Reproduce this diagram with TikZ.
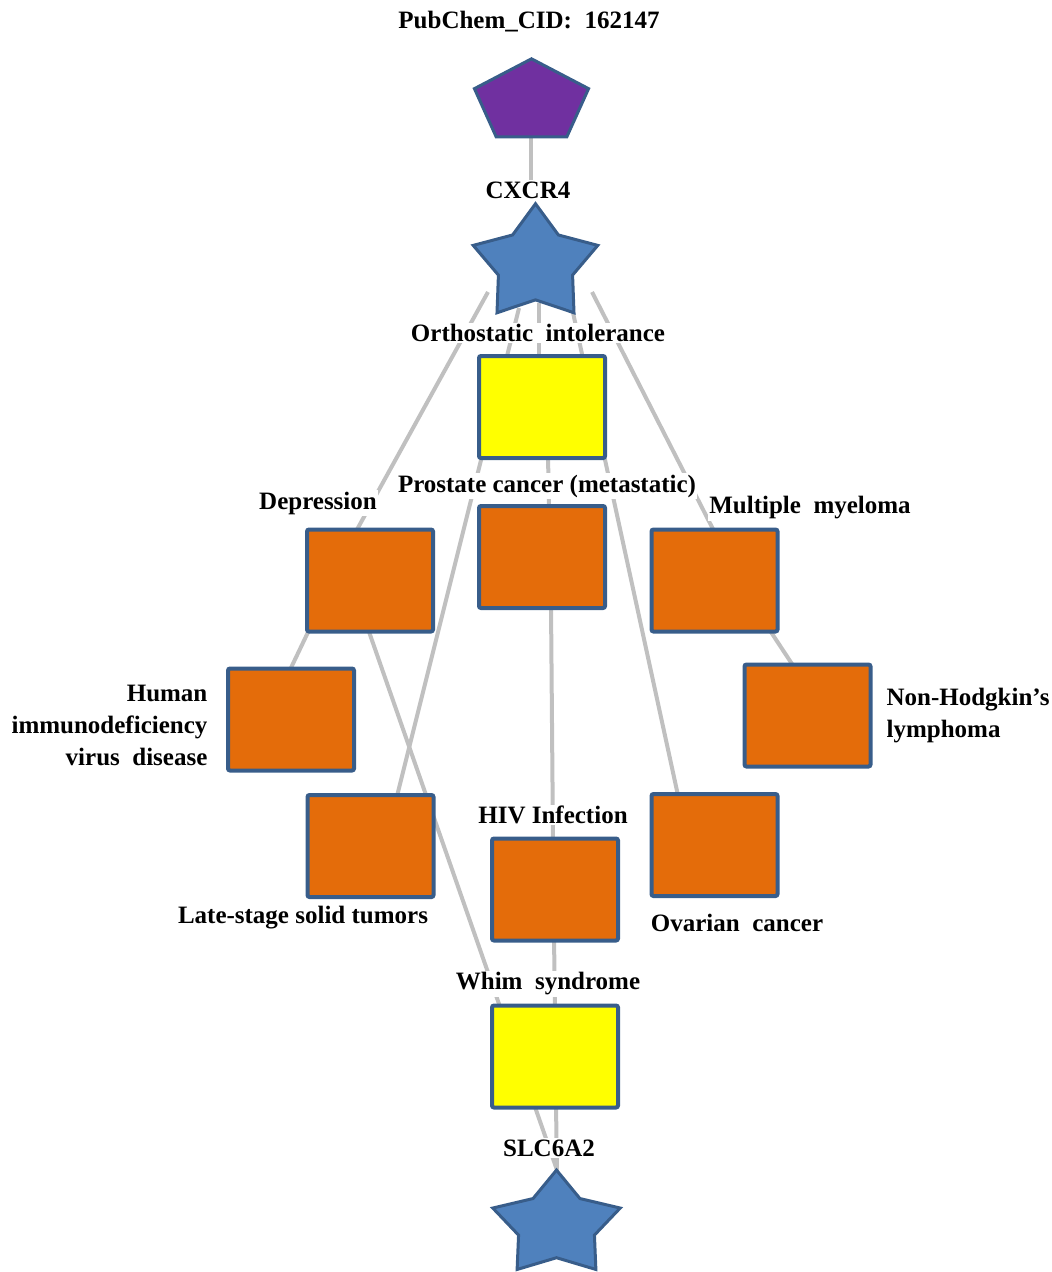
\documentclass[tikz,border=0pt]{standalone}
\usepackage{fontspec}
\setmainfont{Liberation Serif}
\usetikzlibrary{shapes.geometric,calc}
\definecolor{orangebox}{HTML}{E46C0A}
\definecolor{bord}{HTML}{385D8A}
\definecolor{starblue}{HTML}{4F81BD}
\definecolor{purp}{HTML}{7030A0}
\definecolor{edgegray}{HTML}{C0C0C0}
\definecolor{yel}{HTML}{FFFF00}
\pgfdeclarelayer{bg}
\pgfsetlayers{bg,main}
\begin{document}
\begin{tikzpicture}[x=0.75pt,y=-0.75pt,
  box/.style={draw=bord, line width=3pt, rounded corners=1.5pt, minimum width=94.5pt, minimum height=76.5pt, inner sep=0pt},
  dis/.style={box, fill=orangebox},
  yelbox/.style={box, fill=yel},
  genestar/.style={star, star points=5, star point ratio=1.68, draw=bord, fill=starblue, line width=2.25pt, inner sep=0pt},
  drugpent/.style={regular polygon, regular polygon sides=5, draw=bord, fill=purp, line width=2.25pt, inner sep=0pt, minimum size=90pt},
  lab/.style={font=\bfseries\fontsize{18.75}{24}\selectfont, fill=white, inner sep=1pt, align=center},
  conn/.style={draw=edgegray, line width=3pt}]
\useasboundingbox (0,0) rectangle (1052,1272);

% drug and genes
\begin{scope}[shift={(531.5,102)}, yscale=0.72, transform shape]
  \node[drugpent] (pent) at (0,0) {};
\end{scope}
\begin{scope}[shift={(535.5,264)}, yscale=0.92, transform shape]
  \node[genestar, minimum size=98.25pt] (cx) at (0,0) {};
\end{scope}
\begin{scope}[shift={(556.5,1225)}, yscale=0.82, transform shape]
  \node[genestar, minimum size=100.5pt] (slc) at (0,0) {};
\end{scope}

% diseases
\node[yelbox] (orth) at (542,407) {};
\node[dis] (pros) at (542,557) {};
\node[dis] (dep) at (370,580.5) {};
\node[dis] (mm) at (714.5,580.5) {};
\node[dis] (hivd) at (291,719.5) {};
\node[dis] (nhl) at (807.5,715.5) {};
\node[dis] (late) at (370.5,846) {};
\node[dis] (hivi) at (555,889.5) {};
\node[dis] (ovar) at (714.5,845) {};
\node[yelbox] (whim) at (555,1056.5) {};

% labels
\node[lab] (pentl) at (529,22) {PubChem\_CID:\ \ 162147};
\node[lab] (cxl) at (528,190) {CXCR4};
\node[lab] (orthl) at (538,333) {Orthostatic\ \ intolerance};
\node[lab] (prosl) at (547,486) {Prostate cancer (metastatic)};
\node[lab] (depl) at (318,503) {Depression};
\node[lab] (mml) at (810,508) {Multiple\ \ myeloma};
\node[lab, anchor=east, align=right] (hivdl) at (209,725) {Human\\immunodeficiency\\virus\ \ disease};
\node[lab, anchor=west, align=left] (nhll) at (885,716) {Non-Hodgkin’s\\lymphoma};
\node[lab] (latel) at (303,918) {Late-stage solid tumors};
\node[lab] (hivil) at (553,815) {HIV Infection};
\node[lab] (ovarl) at (737,923) {Ovarian\ \ cancer};
\node[lab] (whiml) at (548,984) {Whim\ \ syndrome};
\node[lab] (slcl) at (549,1148) {SLC6A2};

% connectors
\begin{pgfonlayer}{bg}
\draw[conn] ($(pent)+(-0.5,30)$) -- ($(cx)+(-4.5,-74)$);
\draw[conn] ($(cx)+(-47.5,28)$) -- ($(dep)+(-16,-45.5)$);
\draw[conn] ($(dep)+(-59,45.5)$) -- ($(hivd)+(-2,-47.5)$);
\draw[conn] ($(cx)+(-16.5,44)$) -- ($(late)+(25.5,-46)$);
\draw[conn] ($(cx)+(3.5,39)$) -- ($(orth)+(-3,-47)$);
\draw[conn] ($(orth)+(6,48)$) -- ($(pros)+(7,-47)$);
\draw[conn] ($(pros)+(9,48)$) -- ($(hivi)+(-2,-47.5)$);
\draw[conn] ($(hivi)+(-1,47.5)$) -- ($(whim)+(0,-47.5)$);
\draw[conn] ($(whim)+(1,47.5)$) -- ($(slc)+(0.5,-50)$);
\draw[conn] ($(cx)+(36.5,44)$) -- ($(ovar)+(-35.5,-45)$);
\draw[conn] ($(cx)+(56.5,28)$) -- ($(mm)+(1.5,-45.5)$);
\draw[conn] ($(mm)+(52.5,45.5)$) -- ($(nhl)+(-11.5,-45.5)$);
\draw[conn] ($(dep)+(-3,45.5)$) -- ($(slc)+(0.5,-55)$);
\end{pgfonlayer}
\end{tikzpicture}
\end{document}
